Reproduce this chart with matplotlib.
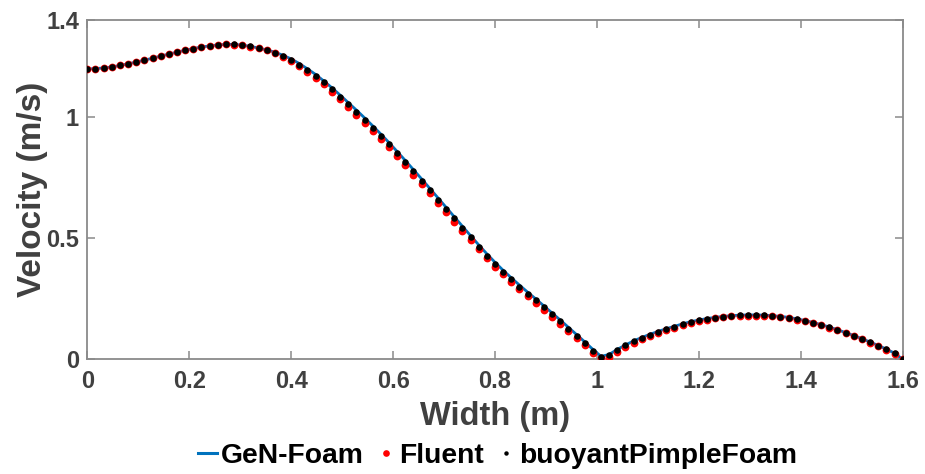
import numpy as np
import matplotlib
matplotlib.use("Agg")
import matplotlib.pyplot as plt
from matplotlib.lines import Line2D

plt.rcParams['font.family'] = ['Liberation Sans', 'DejaVu Sans']
plt.rcParams['font.weight'] = 'bold'

# Sample positions across the channel width (m)
width = np.round(np.linspace(0.0, 1.6, 101), 3)

# Velocity magnitude (m/s) for each solver
gen_foam = [
    1.198, 1.199, 1.202, 1.206, 1.212, 1.219, 1.226, 1.234, 1.242, 1.251,
    1.259, 1.267, 1.275, 1.282, 1.288, 1.293, 1.297, 1.299, 1.299, 1.296,
    1.291, 1.284, 1.276, 1.267, 1.254, 1.239, 1.220, 1.198, 1.175, 1.148,
    1.120, 1.090, 1.059, 1.028, 0.996, 0.963, 0.929, 0.894, 0.857, 0.820,
    0.782, 0.744, 0.705, 0.666, 0.627, 0.588, 0.549, 0.510, 0.472, 0.435,
    0.400, 0.367, 0.336, 0.306, 0.277, 0.249, 0.220, 0.191, 0.162, 0.132,
    0.102, 0.072, 0.041, 0.012, 0.020, 0.041, 0.059, 0.076, 0.090, 0.103,
    0.115, 0.126, 0.136, 0.146, 0.155, 0.162, 0.168, 0.173, 0.177, 0.180,
    0.182, 0.183, 0.183, 0.182, 0.180, 0.177, 0.173, 0.167, 0.160, 0.152,
    0.143, 0.133, 0.122, 0.110, 0.098, 0.085, 0.071, 0.057, 0.042, 0.025,
    0.000,
]

fluent = [
    1.198, 1.199, 1.202, 1.206, 1.212, 1.219, 1.226, 1.234, 1.242, 1.251,
    1.259, 1.267, 1.275, 1.282, 1.288, 1.293, 1.297, 1.299, 1.298, 1.295,
    1.290, 1.283, 1.274, 1.262, 1.248, 1.231, 1.210, 1.187, 1.162, 1.134,
    1.104, 1.073, 1.041, 1.009, 0.976, 0.943, 0.909, 0.874, 0.837, 0.800,
    0.762, 0.724, 0.685, 0.646, 0.607, 0.568, 0.529, 0.491, 0.453, 0.417,
    0.382, 0.350, 0.320, 0.290, 0.261, 0.233, 0.205, 0.176, 0.147, 0.118,
    0.088, 0.058, 0.028, 0.004, 0.011, 0.032, 0.051, 0.068, 0.083, 0.097,
    0.109, 0.120, 0.131, 0.141, 0.150, 0.158, 0.164, 0.169, 0.173, 0.177,
    0.179, 0.180, 0.180, 0.179, 0.177, 0.174, 0.170, 0.164, 0.157, 0.149,
    0.140, 0.130, 0.119, 0.107, 0.095, 0.082, 0.068, 0.054, 0.039, 0.022,
    0.000,
]

buoyant_pimple_foam = [
    1.198, 1.199, 1.202, 1.206, 1.212, 1.219, 1.226, 1.234, 1.242, 1.251,
    1.259, 1.267, 1.275, 1.282, 1.288, 1.293, 1.297, 1.299, 1.299, 1.296,
    1.291, 1.284, 1.276, 1.265, 1.252, 1.236, 1.216, 1.194, 1.170, 1.143,
    1.114, 1.084, 1.053, 1.021, 0.989, 0.956, 0.922, 0.887, 0.850, 0.813,
    0.775, 0.737, 0.698, 0.659, 0.620, 0.581, 0.542, 0.503, 0.465, 0.428,
    0.393, 0.361, 0.330, 0.300, 0.271, 0.243, 0.214, 0.185, 0.156, 0.126,
    0.096, 0.066, 0.035, 0.008, 0.016, 0.038, 0.057, 0.074, 0.089, 0.102,
    0.114, 0.125, 0.135, 0.145, 0.154, 0.161, 0.167, 0.172, 0.176, 0.179,
    0.181, 0.182, 0.182, 0.181, 0.179, 0.176, 0.172, 0.166, 0.159, 0.151,
    0.142, 0.132, 0.121, 0.109, 0.097, 0.084, 0.070, 0.056, 0.041, 0.024,
    0.000,
]

x_ticks = [0, 0.2, 0.4, 0.6, 0.8, 1.0, 1.2, 1.4, 1.6]
x_tick_labels = ['0', '0.2', '0.4', '0.6', '0.8', '1', '1.2', '1.4', '1.6']
y_ticks = [0, 0.5, 1.0, 1.4]
y_tick_labels = ['0', '0.5', '1', '1.4']

blue = '#0072BD'
axis_grey = '#8a8a8a'
text_grey = '#404040'

fig = plt.figure(figsize=(9.25, 4.74), dpi=100)
ax = fig.add_axes([0.0944, 0.242, 0.8815, 0.716])

ax.plot(width, gen_foam, color=blue, lw=2.0, zorder=2)
ax.plot(width, fluent, ls='none', marker='o', ms=5.6, color='#ff0000',
        mec='none', zorder=3)
ax.plot(width, buoyant_pimple_foam, ls='none', marker='o', ms=4.7,
        color='black', mec='none', zorder=4)

ax.set_xlim(0, 1.6)
ax.set_ylim(0, 1.4)
ax.set_xticks(x_ticks)
ax.set_xticklabels(x_tick_labels)
ax.set_yticks(y_ticks)
ax.set_yticklabels(y_tick_labels)

for s in ax.spines.values():
    s.set_color(axis_grey)
    s.set_linewidth(1.3)
ax.tick_params(direction='in', length=6, width=1.1, color=axis_grey,
               top=True, right=True, labelsize=17, labelcolor=text_grey)
ax.tick_params(axis='x', pad=8)
ax.tick_params(axis='y', pad=6)
for lab in ax.get_xticklabels() + ax.get_yticklabels():
    lab.set_fontweight('bold')

ax.set_xlabel('Width (m)', fontsize=23.5, fontweight='bold', color=text_grey,
              labelpad=5.5)
ax.set_ylabel('Velocity (m/s)', fontsize=24, fontweight='bold',
              color=text_grey, labelpad=-1)

handles = [
    Line2D([], [], color=blue, lw=2.2),
    Line2D([], [], ls='none', marker='o', ms=4.8, color='#ff0000', mec='none'),
    Line2D([], [], ls='none', marker='o', ms=3.2, color='black', mec='none'),
]
labels = ['GeN-Foam', 'Fluent', 'buoyantPimpleFoam']
fig.legend(handles, labels, loc='center', bbox_to_anchor=(0.538, 0.038),
           ncol=3, frameon=False, handlelength=0.65, handletextpad=0.15,
           columnspacing=0.45, prop={'size': 20.3, 'weight': 'bold'})

fig.savefig('out.png', dpi=100)
